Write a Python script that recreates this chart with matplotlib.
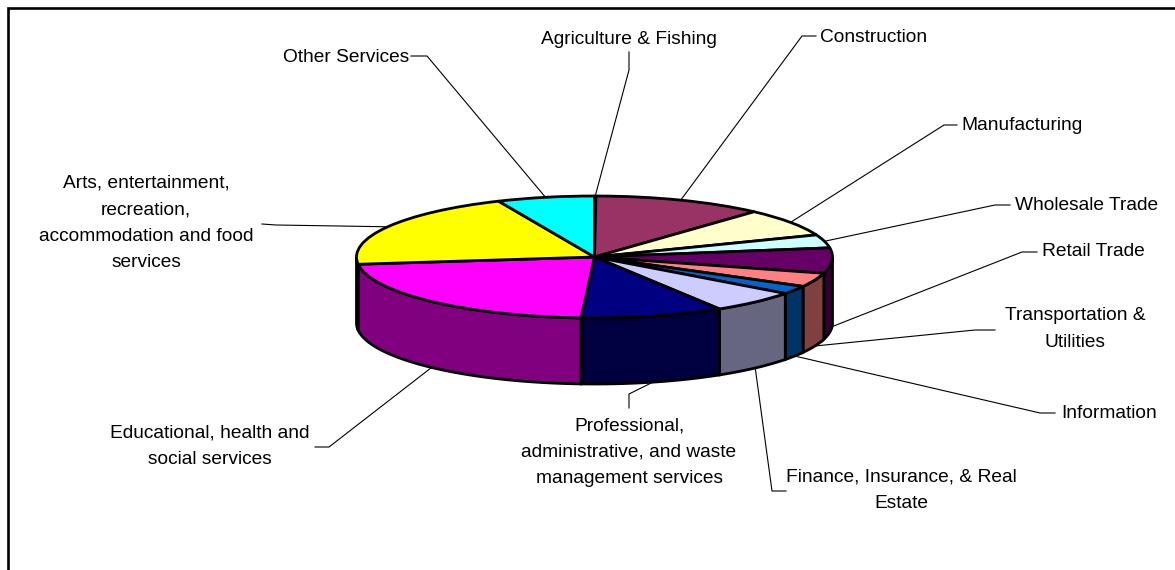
import numpy as np
import matplotlib
matplotlib.use("Agg")
import matplotlib.pyplot as plt

plt.rcParams["font.family"] = ["Liberation Sans", "DejaVu Sans"]

sectors = ["Agriculture & Fishing", "Construction", "Manufacturing",
           "Wholesale Trade", "Retail Trade", "Transportation & Utilities",
           "Information", "Finance, Insurance, & Real Estate",
           "Professional, administrative, and waste management services",
           "Educational, health and social services",
           "Arts, entertainment, recreation, accommodation and food services",
           "Other Services"]
shares = [0.1, 11.6, 7.4, 3.5, 6.7, 3.7, 2.2, 6.0, 9.7, 22.2, 20.3, 6.6]

top_colors = ["#9999FF", "#993366", "#FFFFCC", "#CCFFFF", "#660066", "#FF8080",
              "#0066CC", "#CCCCFF", "#000080", "#FF00FF", "#FFFF00", "#00FFFF"]
side_colors = ["#4C4C80", "#4C1A33", "#808066", "#668080", "#330033", "#804040",
               "#003366", "#666680", "#000040", "#800080", "#808000", "#008080"]

# label text broken into lines, anchor (x, y, ha), leader elbow points, all in pixels
labels = [
    ("Agriculture & Fishing", 629, 40, "center", [(629, 70), (629, 52)]),
    ("Construction", 820, 37, "left", [(802, 36), (816, 36)]),
    ("Manufacturing", 961, 125, "left", [(944, 125), (957, 125)]),
    ("Wholesale Trade", 1015, 206, "left", [(995, 205), (1010, 205)]),
    ("Retail Trade", 1042, 252, "left", [(1022, 252), (1037, 252)]),
    ("Transportation &\nUtilities", 1075, 329, "center", [(975, 330), (995, 330)]),
    ("Information", 1061, 414, "left", [(1040, 413), (1055, 413)]),
    ("Finance, Insurance, & Real\nEstate", 901, 490, "center", [(772, 491), (786, 491)]),
    ("Professional,\nadministrative, and waste\nmanagement services", 629, 452, "center",
     [(629, 394), (629, 408)]),
    ("Educational, health and\nsocial services", 210, 446, "center", [(329, 447), (315, 447)]),
    ("Arts, entertainment,\nrecreation,\naccommodation and food\nservices", 146, 223, "center",
     [(276, 225), (262, 224)]),
    ("Other Services", 409, 57, "right", [(427, 56), (411, 56)]),
]

W, H = 1175, 570
CX, CY = 594.5, 257.0    # pie centre
RX, RY = 238.0, 61.0     # squashed radii
DEPTH = 66.0             # height of the side wall

fig = plt.figure(figsize=(W / 100, H / 100), dpi=100, facecolor="white")

# pie axes: one data unit is RX pixels across and RY pixels down
ax = fig.add_axes([0, 0, 1, 1])
ax.pie(shares, colors=top_colors, startangle=90, counterclock=False, radius=1,
       wedgeprops=dict(edgecolor="black", linewidth=2.0, joinstyle="round"))
ax.set_aspect("auto")
ax.set_xlim(-CX / RX, (W - CX) / RX)
ax.set_ylim((CY - H) / RY, CY / RY)
ax.axis("off")

# side walls, only the front half of the rim is visible
edges = np.concatenate([[0], np.cumsum(shares)]) / np.sum(shares) * 2 * np.pi
for a0, a1, col in zip(edges[:-1], edges[1:], side_colors):
    lo, hi = max(a0, np.pi / 2), min(a1, 3 * np.pi / 2)
    if hi <= lo:
        continue
    t = np.linspace(lo, hi, 80)
    xs = np.sin(t)
    ys = np.cos(t)
    ax.fill(np.r_[xs, xs[::-1]], np.r_[ys, ys[::-1] - DEPTH / RY],
            facecolor=col, edgecolor="black", linewidth=2.0, zorder=0.5)

# overlay in pixel coordinates for labels, leaders and the outer border
over = fig.add_axes([0, 0, 1, 1])
over.set_xlim(0, W)
over.set_ylim(H, 0)
over.axis("off")
over.patch.set_alpha(0)

over.plot([8.3, 8.3, W + 5], [H + 5, 8.3, 8.3], color="black", lw=1.9,
          solid_joinstyle="miter", clip_on=True)

mids = (edges[:-1] + edges[1:]) / 2
for mid, (text, tx, ty, ha, elbow) in zip(mids, labels):
    sx = CX + RX * np.sin(mid)
    sy = CY - RY * np.cos(mid)
    if np.pi / 2 < mid < 3 * np.pi / 2:
        sy += DEPTH
    px = [sx] + [p[0] for p in elbow]
    py = [sy] + [p[1] for p in elbow]
    over.plot(px, py, color="black", lw=0.8)
    over.text(tx, ty, text, ha=ha, va="center", fontsize=13.8, color="black",
              linespacing=1.72, multialignment="center")

fig.savefig("out.png", dpi=100)
